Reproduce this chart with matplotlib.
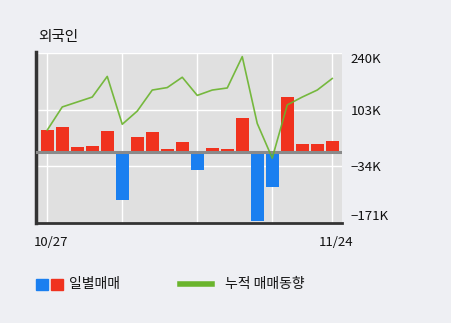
import matplotlib
matplotlib.use("Agg")
import matplotlib.pyplot as plt
from matplotlib.patches import Rectangle
from matplotlib.lines import Line2D
import matplotlib.transforms as mtransforms
import numpy as np

plt.rcParams['font.family'] = ['Noto Sans CJK KR', 'DejaVu Sans']

# ---- data ----
title = "외국인"
x_labels = ["10/27", "", "", "", "11/24"]
x_label_idx = [0, 5, 10, 15, 19]
daily = [54, 62, 13, 16, 52, -116, 37.5, 49, 8, 25,
         -42, 11, 8.7, 83, -167, -83, 134, 20, 20, 28]          # thousands
cumulative = [54, 110, 122, 134, 184, 68, 100, 151, 157, 182,
              138, 151, 156, 232, 70, -14, 115, 134, 151, 179]  # thousands
y_ticks = [240, 103, -34, -171]
y_tick_labels = ["240K", "103K", "\u221234K", "\u2212171K"]
legend_labels = ["일별매매", "누적 매매동향"]

RED = "#f0321e"
BLUE = "#1a7ff0"
GREEN = "#6ab42c"
FIG_BG = "#eeeff3"
AX_BG = "#e0e0e0"

W, H = 451, 323
fig = plt.figure(figsize=(W / 100, H / 100), dpi=100, facecolor=FIG_BG)
ax = fig.add_axes([36 / W, (H - 223.3) / H, (342.3 - 36) / W, (223.3 - 52.5) / H])
ax.set_facecolor(AX_BG)

x = np.arange(len(daily))
vals = np.array(daily) * 1000
colors = [RED if v >= 0 else BLUE for v in vals]
ax.bar(x, vals, width=0.86, color=colors, zorder=3)
ax.axhline(0, color="#8a8a8a", lw=2.2, zorder=4)
ax.plot(x, np.array(cumulative) * 1000, color=GREEN, lw=1.2, zorder=5, alpha=0.9)

ax.set_xlim(-0.75, 19.67)
ax.set_ylim(-172000, 242000)

ax.set_xticks(x_label_idx)
ax.set_xticklabels(x_labels, fontsize=9.5, color="#111111")
ax.set_yticks([v * 1000 for v in y_ticks])
ax.set_yticklabels(y_tick_labels, fontsize=9.5, color="#111111")
ax.yaxis.tick_right()
ax.tick_params(axis="both", length=0)
ax.tick_params(axis="y", pad=6)
ax.tick_params(axis="x", pad=9)
lbls = ax.get_yticklabels()
lbls[0].set_va("top")
lbls[-1].set_va("bottom")
offset = mtransforms.ScaledTranslation(4 / 100, 0, fig.dpi_scale_trans)
for lab in ax.get_xticklabels():
    lab.set_transform(lab.get_transform() + offset)

ax.grid(True, color="white", lw=1.0, zorder=1)
ax.set_axisbelow(True)
for s in ["top", "right"]:
    ax.spines[s].set_visible(False)
ax.spines["left"].set_color("#333333")
ax.spines["left"].set_linewidth(2.5)
ax.spines["bottom"].set_color("#333333")
ax.spines["bottom"].set_linewidth(2.0)

fig.text(38 / W, 1 - 37 / H, title, fontsize=10.5, va="center", ha="left", color="#111111")

# legend (manual)
fig.patches.append(Rectangle((36 / W, 1 - 290 / H), 12 / W, 11 / H,
                             transform=fig.transFigure, color=BLUE, figure=fig))
fig.patches.append(Rectangle((51 / W, 1 - 290 / H), 12 / W, 11 / H,
                             transform=fig.transFigure, color=RED, figure=fig))
fig.text(69 / W, 1 - 284 / H, legend_labels[0], fontsize=10, va="center", ha="left", color="#111111")
fig.lines.append(Line2D([180 / W, 212 / W], [1 - 284 / H, 1 - 284 / H],
                        transform=fig.transFigure, color=GREEN, lw=4, figure=fig))
fig.text(225 / W, 1 - 284 / H, legend_labels[1], fontsize=10, va="center", ha="left", color="#111111")

fig.savefig("out.png", dpi=100, facecolor=FIG_BG)
